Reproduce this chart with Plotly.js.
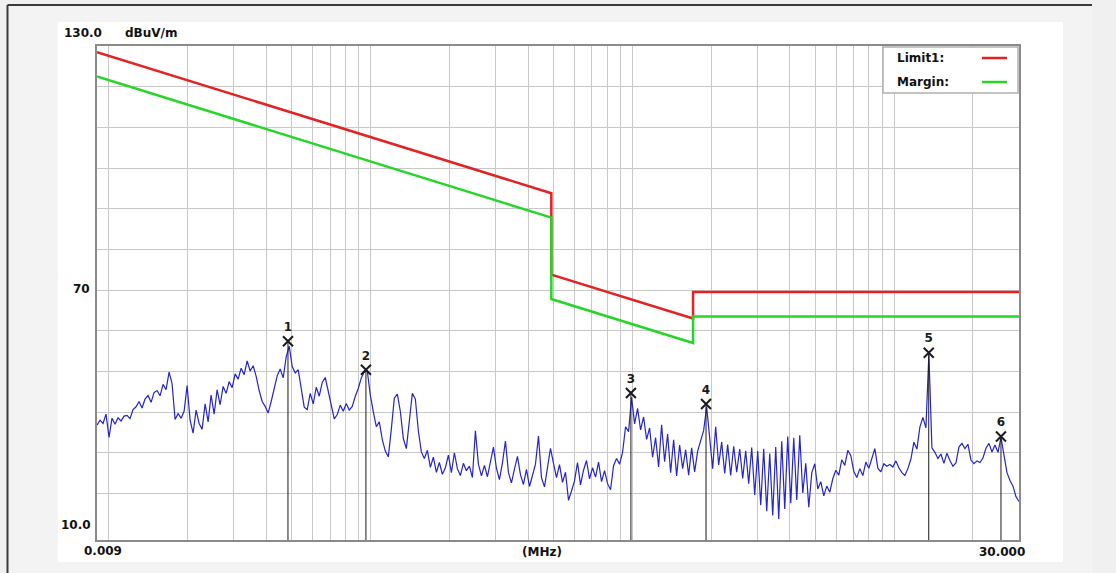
<!DOCTYPE html>
<html>
<head>
<meta charset="utf-8">
<script src="https://cdn.plot.ly/plotly-3.0.1.min.js"></script>
<style>
  html, body { margin: 0; padding: 0; background: #f0f0f0; }
  #chart { width: 1116px; height: 573px; }
</style>
</head>
<body>
<div id="chart"></div>
<script>
// Receiver sweep: log-stepped from start to stop frequency (MHz)
const sweepStartMHz = 0.009;
const sweepStopMHz = 30;

// Peak-detector level at each sweep step, dBuV/m
const sweepLevels = [
  36.8, 38.0, 37.2, 39.5, 33.8, 38.5, 37.0, 38.6, 37.8, 39.0,
  39.2, 38.4, 40.6, 41.3, 42.6, 41.0, 43.2, 44.1, 42.4, 44.8,
  45.3, 44.0, 46.8, 45.5, 49.8, 47.0, 38.2, 39.6, 38.5, 40.2,
  46.5, 38.0, 34.8, 40.5, 37.2, 35.8, 42.0, 37.6, 44.2, 39.5,
  45.5, 41.8, 46.3, 44.6, 47.5, 46.0, 49.4, 48.1, 50.8, 49.2,
  52.6, 50.1, 51.4, 48.8, 45.3, 42.6, 41.4, 39.8, 42.6, 46.2,
  48.9, 50.6, 48.4, 53.6, 56.2, 51.2, 49.6, 50.4, 45.8, 41.2,
  40.6, 44.6, 42.0, 46.1, 43.9, 47.3, 48.5, 45.1, 41.8, 38.3,
  39.4, 41.7, 40.2, 42.1, 40.5, 41.4, 43.9, 45.8, 48.4, 49.9,
  50.1, 44.2, 40.1, 36.4, 37.6, 33.2, 30.4, 29.0, 35.8, 43.4,
  44.4, 40.2, 33.5, 31.0, 37.8, 44.6, 43.2, 35.4, 30.2, 28.6,
  30.6, 26.4, 28.9, 25.2, 27.6, 24.7, 26.3, 29.4, 25.1, 30.0,
  26.1, 24.4, 27.4, 25.6, 26.7, 23.9, 35.4, 27.2, 24.3, 26.9,
  24.1, 27.7, 31.4, 26.2, 23.4, 27.5, 32.9, 25.1, 22.6, 26.0,
  29.1, 24.6, 22.2, 25.9, 21.7, 24.4, 27.2, 34.1, 23.9, 21.6,
  26.2, 31.1, 27.4, 23.9, 27.1, 22.7, 25.2, 18.3, 20.6, 23.1,
  27.6, 22.1, 25.7, 28.1, 23.6, 26.3, 24.0, 27.7, 22.9, 25.6,
  22.4, 20.9, 26.8, 28.6, 27.2, 30.1, 36.4, 35.2, 43.6, 37.1,
  40.9, 35.6, 38.8, 33.3, 36.1, 28.9, 33.7, 26.5, 36.9, 27.8,
  34.6, 25.1, 33.2, 24.3, 31.9, 26.1, 30.7, 24.5, 31.2, 25.3,
  30.4, 32.8, 35.5, 41.3, 34.2, 26.1, 36.4, 27.0, 32.6, 24.9,
  32.0, 24.4, 31.6, 25.2, 30.9, 23.7, 30.5, 22.4, 31.3, 19.6,
  30.4, 17.1, 31.0, 15.6, 29.8, 14.6, 31.4, 13.7, 32.8, 16.2,
  34.0, 17.6, 33.7, 18.4, 34.3, 20.1, 27.4, 16.6, 25.1, 27.3,
  21.1, 22.9, 19.4, 21.8, 20.3, 23.6, 25.7, 24.5, 28.3, 26.9,
  30.6, 29.3, 25.4, 23.9, 26.1, 24.4, 27.7, 26.2, 28.6, 31.0,
  26.2, 25.3, 27.3, 26.7, 27.1, 26.5, 28.0, 26.3, 25.1, 24.4,
  26.1, 28.4, 32.6, 30.9, 36.3, 38.7, 36.1, 54.2, 31.2, 30.1,
  28.6, 29.7, 27.4, 29.9, 28.1, 26.7, 27.5, 31.4, 32.3, 31.0,
  32.1, 28.2, 27.3, 28.0, 27.6, 28.7, 31.1, 32.3, 30.2, 31.9,
  30.1, 33.8, 29.4, 25.1, 23.2, 21.8, 19.2, 18.0
];

// Limit line and margin line (limit - 6 dB)
const limitFreqs   = [0.009, 0.49, 0.49, 1.705, 1.705, 30];
const limitLevels  = [128.5, 93.8, 73.8, 63.0, 69.5, 69.5];
const marginLevels = [122.5, 87.8, 67.8, 57.0, 63.5, 63.5];

// Marked peaks
const peakLabels = ['1', '2', '3', '4', '5', '6'];
const peakFreqs  = [0.0483, 0.0959, 0.987, 1.911, 13.56, 25.6];
const peakLevels = [57.4, 50.4, 44.7, 42.0, 54.6, 34.0];

// Axis scale
const yMin = 8.55, yMax = 130;
const yGrid = [20, 30, 40, 50, 60, 70, 80, 90, 100, 110, 120];

// Sweep step frequencies
const nSteps = sweepLevels.length;
const sweepFreqs = sweepLevels.map((_, i) =>
  sweepStartMHz * Math.pow(sweepStopMHz / sweepStartMHz, i / (nSteps - 1)));

// 1-2-...-9 grid per decade
const xGrid = [];
[0.01, 0.1, 1, 10].forEach(dec => {
  for (let m = 1; m <= 9; m++) { const f = m * dec; if (f <= sweepStopMHz) xGrid.push(f); }
});

// Peak drop lines
const dropX = [], dropY = [];
peakFreqs.forEach((f, i) => { dropX.push(f, f, null); dropY.push(peakLevels[i], yMin, null); });

// Plot-area geometry (pixels) for placing frame, labels and legend
const W = 1116, H = 573, L = 97, R = 1019, T = 46, B = 540;
const px = x => (x - L) / (R - L);
const py = y => (B - y) / (B - T);

const traces = [
  { x: sweepFreqs, y: sweepLevels, type: 'scatter', mode: 'lines',
    line: { color: '#2323d4', width: 1.2 } },
  { x: dropX, y: dropY, type: 'scatter', mode: 'lines',
    line: { color: '#1a1a1a', width: 1 } },
  { x: limitFreqs, y: limitLevels, type: 'scatter', mode: 'lines',
    line: { color: '#e32222', width: 2.5 } },
  { x: limitFreqs, y: marginLevels, type: 'scatter', mode: 'lines',
    line: { color: '#26d626', width: 2.5 } },
  { x: peakFreqs, y: peakLevels, type: 'scatter', mode: 'markers+text',
    text: peakLabels, textposition: 'top center',
    textfont: { family: 'DejaVu Sans', size: 12, color: '#1a1a1a', weight: 'bold' },
    marker: { symbol: 'x-thin-open', size: 10, color: '#1a1a1a', line: { width: 2, color: '#1a1a1a' } } }
];

const lbl = (text, x, y, xanchor, extra) => Object.assign({
  text, xref: 'paper', yref: 'paper', x: px(x), y: py(y), xanchor, yanchor: 'middle',
  showarrow: false, font: { family: 'DejaVu Sans', size: 12, color: '#111', weight: 'bold' }
}, extra || {});

const layout = {
  width: W, height: H,
  margin: { l: L, r: W - R, t: T, b: H - B, pad: 0 },
  paper_bgcolor: '#f0f0f0',
  plot_bgcolor: '#ffffff',
  showlegend: false,
  hovermode: false,
  xaxis: {
    type: 'log', range: [Math.log10(sweepStartMHz), Math.log10(sweepStopMHz)],
    tickvals: xGrid, showticklabels: false, ticks: '',
    showgrid: true, gridcolor: '#c8c8c8', gridwidth: 1,
    showline: true, mirror: true, linecolor: '#8a8a8a', linewidth: 2, zeroline: false
  },
  yaxis: {
    range: [yMin, yMax], tickvals: yGrid, showticklabels: false, ticks: '',
    showgrid: true, gridcolor: '#c8c8c8', gridwidth: 1,
    showline: true, mirror: true, linecolor: '#8a8a8a', linewidth: 2, zeroline: false
  },
  shapes: [
    // white panel and window frame
    { type: 'rect', xref: 'paper', yref: 'paper', layer: 'below',
      x0: px(8), x1: px(1092), y0: py(573), y1: py(5),
      fillcolor: '#f3f3f3', line: { width: 0 } },
    { type: 'rect', xref: 'paper', yref: 'paper', layer: 'below',
      x0: px(58), x1: px(1063), y0: py(562), y1: py(22),
      fillcolor: '#ffffff', line: { width: 0 } },
    { type: 'line', xref: 'paper', yref: 'paper', x0: px(7.5), x1: px(1092), y0: py(5), y1: py(5),
      line: { color: '#3a3a3a', width: 2 } },
    { type: 'line', xref: 'paper', yref: 'paper', x0: px(7.5), x1: px(7.5), y0: py(5), y1: py(573),
      line: { color: '#3a3a3a', width: 2 } },
    // legend box
    { type: 'rect', xref: 'paper', yref: 'paper', layer: 'above',
      x0: px(883), x1: px(1018), y0: py(93), y1: py(47),
      fillcolor: '#ffffff', line: { color: '#b0b0b0', width: 1.5 } },
    { type: 'line', xref: 'paper', yref: 'paper', x0: px(982), x1: px(1007), y0: py(58), y1: py(58),
      line: { color: '#e32222', width: 2.5 } },
    { type: 'line', xref: 'paper', yref: 'paper', x0: px(982), x1: px(1007), y0: py(82), y1: py(82),
      line: { color: '#26d626', width: 2.5 } }
  ],
  annotations: [
    lbl('130.0', 62, 33, 'left'),
    lbl('dBuV/m', 123, 33, 'left'),
    lbl('70', 92, 289, 'right'),
    lbl('10.0', 93, 525, 'right'),
    lbl('0.009', 82, 551, 'left'),
    lbl('(MHz)', 542, 552, 'center'),
    lbl('30.000', 1027, 552, 'right'),
    lbl('Limit1:', 895, 58, 'left'),
    lbl('Margin:', 895, 82, 'left')
  ]
};

Plotly.newPlot('chart', traces, layout, { staticPlot: true, displayModeBar: false });
</script>
</body>
</html>
